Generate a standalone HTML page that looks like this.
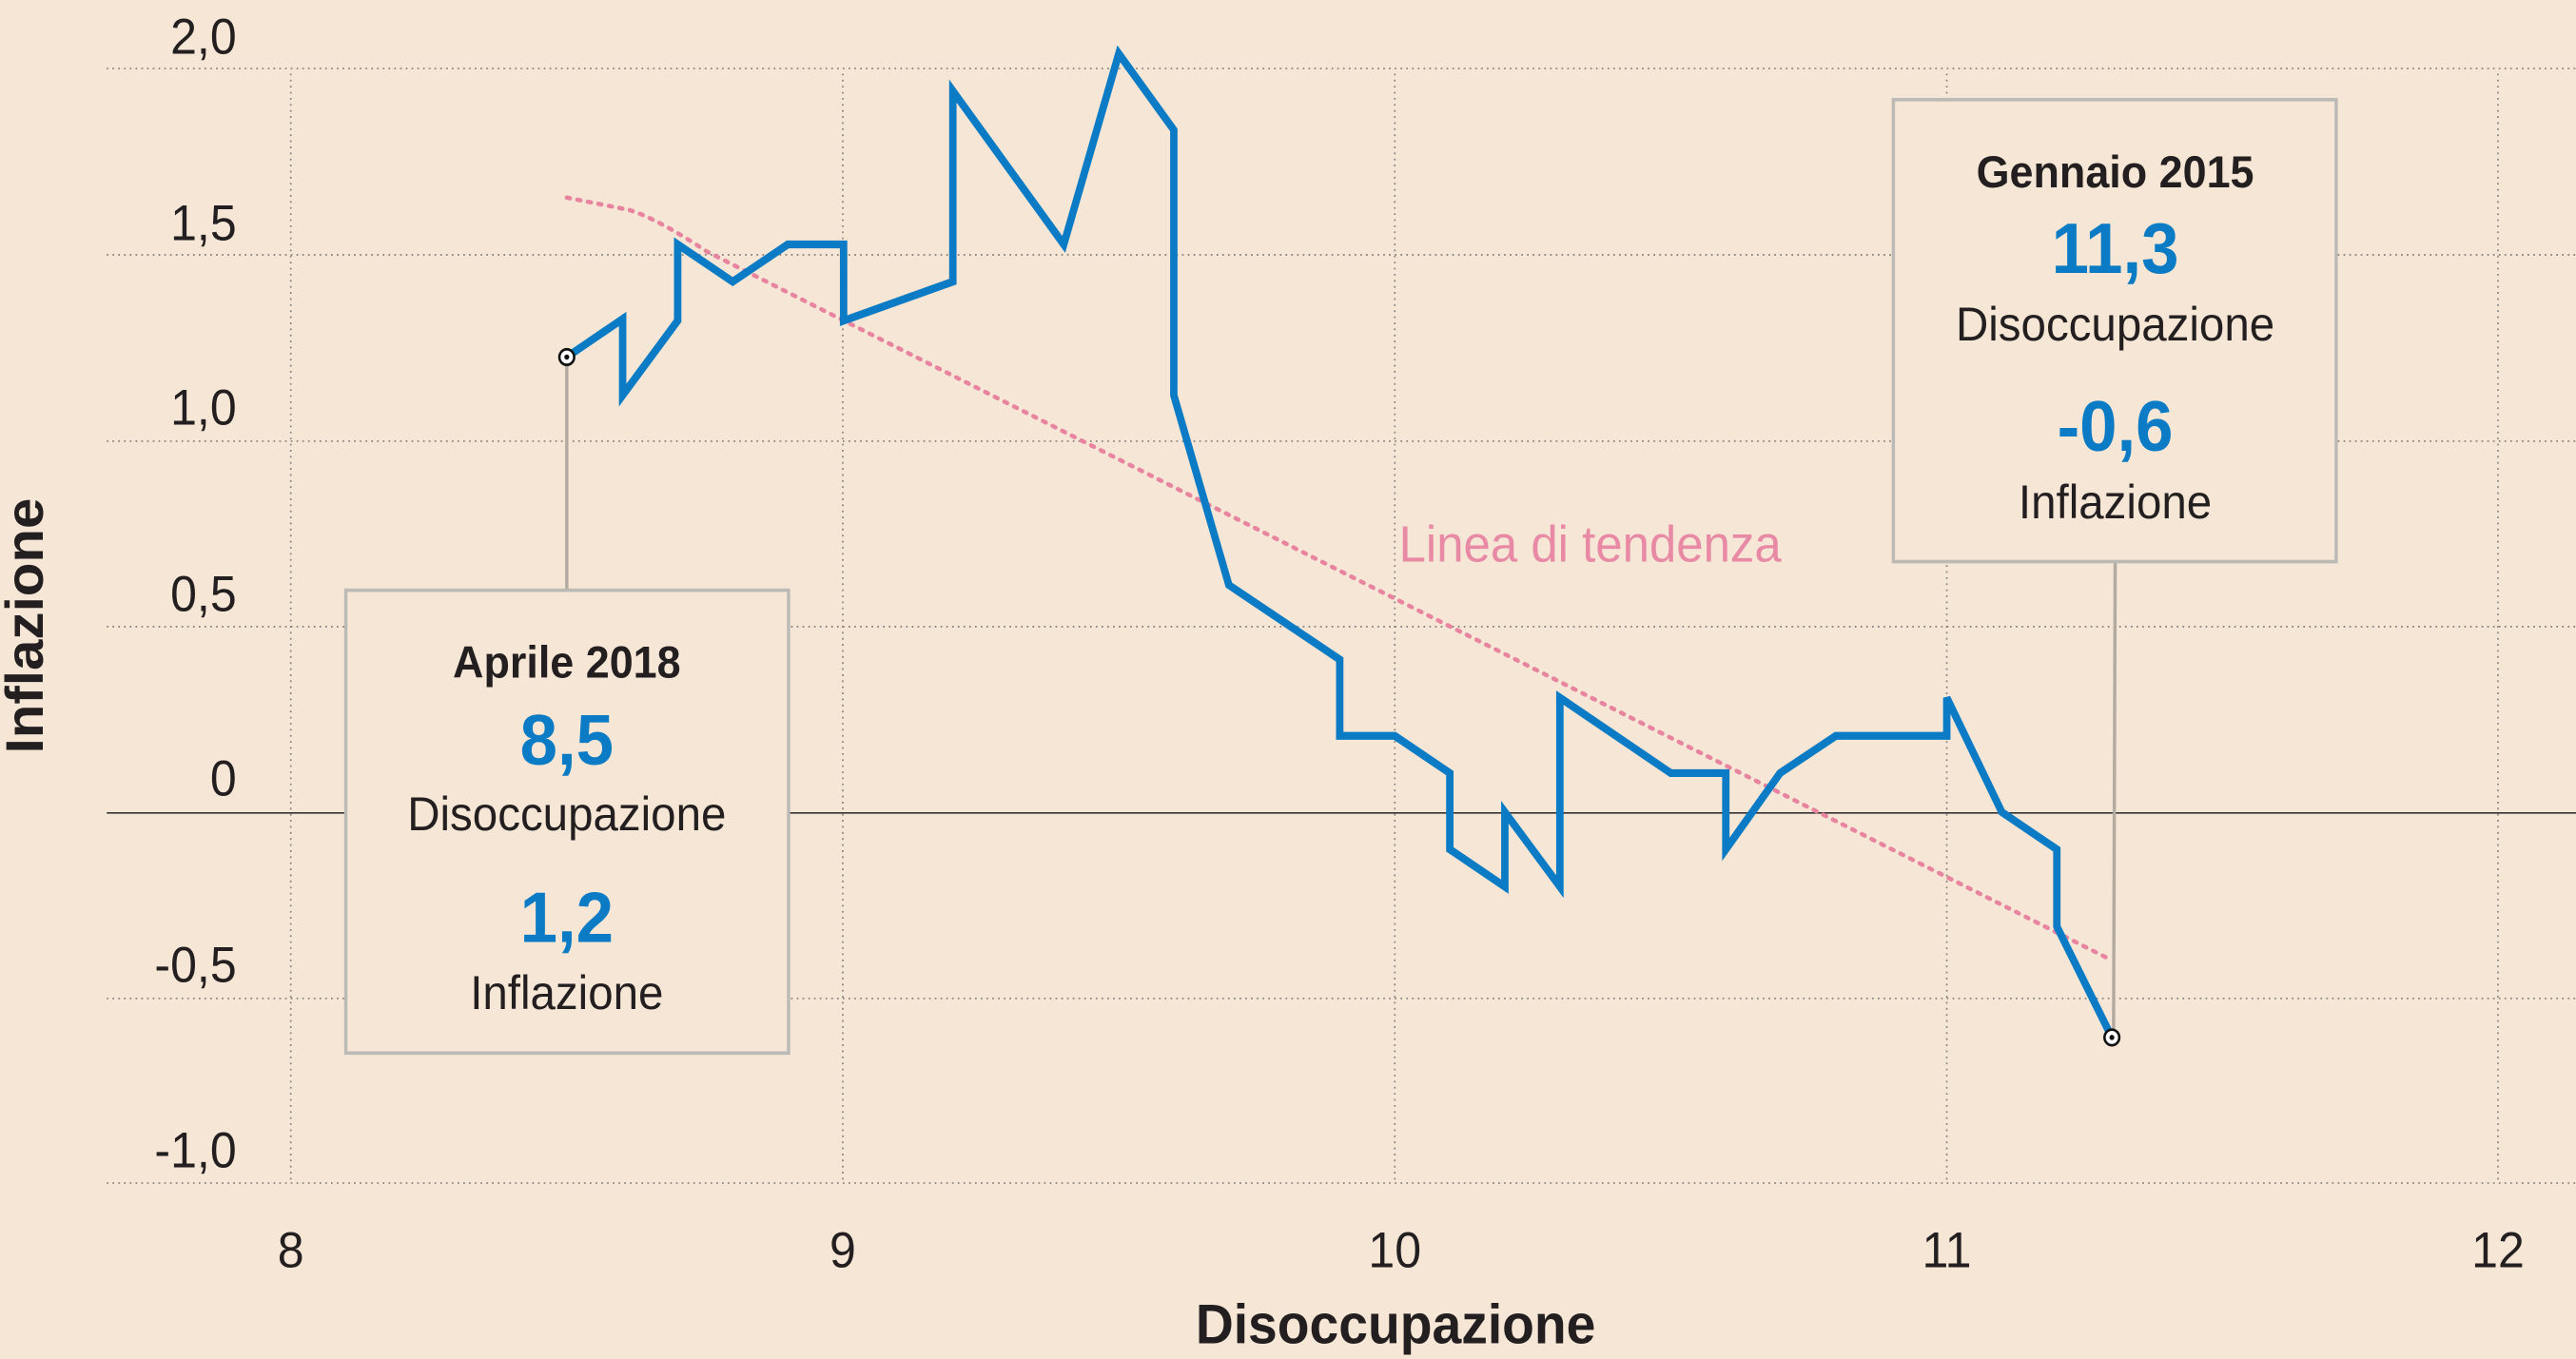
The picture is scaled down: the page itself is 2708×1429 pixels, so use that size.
<!DOCTYPE html>
<html><head><meta charset="utf-8"><style>
html,body{margin:0;padding:0;background:#f5e6d5;}
svg{display:block;}
text{font-family:"Liberation Sans",sans-serif;}
</style></head><body>
<svg width="2708" height="1429" viewBox="0 0 3136 1568" preserveAspectRatio="none" xmlns="http://www.w3.org/2000/svg">
<rect width="3136" height="1568" fill="#f5e6d5"/>
<g stroke="#8a8580" stroke-width="2" stroke-dasharray="2 5" fill="none">
<line x1="130" y1="79" x2="3136" y2="79"/>
<line x1="130" y1="294" x2="3136" y2="294"/>
<line x1="130" y1="509" x2="3136" y2="509"/>
<line x1="130" y1="723" x2="3136" y2="723"/>
<line x1="130" y1="1152" x2="3136" y2="1152"/>
<line x1="130" y1="1365" x2="3136" y2="1365"/>
<line x1="354" y1="85" x2="354" y2="1365"/>
<line x1="1026" y1="85" x2="1026" y2="1365"/>
<line x1="1698" y1="85" x2="1698" y2="1365"/>
<line x1="2370" y1="85" x2="2370" y2="1365"/>
<line x1="3041" y1="85" x2="3041" y2="1365"/>
</g>
<line x1="130" y1="938" x2="3136" y2="938" stroke="#333" stroke-width="1.8"/>
<g fill="#231f20" font-size="58" text-anchor="end">
<text x="288" y="62">2,0</text><text x="288" y="277">1,5</text><text x="288" y="490">1,0</text>
<text x="288" y="705">0,5</text><text x="288" y="918">0</text><text x="288" y="1133">-0,5</text><text x="288" y="1347">-1,0</text>
</g>
<g fill="#231f20" font-size="58" text-anchor="middle">
<text x="354" y="1462">8</text><text x="1026" y="1462">9</text><text x="1698" y="1462">10</text><text x="2370" y="1462">11</text><text x="3041" y="1462">12</text>
</g>
<text x="1699" y="1550" font-size="64" font-weight="bold" fill="#231f20" text-anchor="middle">Disoccupazione</text>
<text transform="translate(52,722) rotate(-90)" font-size="64" font-weight="bold" fill="#231f20" text-anchor="middle">Inflazione</text>
<path d="M690,228 L765,242 Q800,252 860,290 L2571,1108" fill="none" stroke="#e8849f" stroke-width="5" stroke-dasharray="4 9" stroke-linecap="round"/>
<text x="1703" y="648" font-size="59" fill="#e88aa5">Linea di tendenza</text>
<line x1="690" y1="412" x2="690" y2="681" stroke="#b3aaa0" stroke-width="4"/>
<line x1="2575" y1="648" x2="2573" y2="1197" stroke="#b3aaa0" stroke-width="4"/>
<polyline fill="none" stroke="#0a7bc4" stroke-width="9" stroke-linejoin="miter" points="690,412 758,368 758,456 825,370 825,282 892,325 959,282 1027,282 1027,370 1160,325 1160,105 1295,282 1362,62 1429,150 1429,456 1496,675 1631,761 1631,849 1698,849 1765,892 1765,980 1832,1023 1832,937 1899,1023 1899,805 2034,892 2101,892 2101,980 2167,892 2235,849 2370,849 2370,805 2437,937 2504,980 2504,1069 2571,1197"/>
<g><circle cx="690" cy="412" r="9" fill="#fff" stroke="#111" stroke-width="3"/><circle cx="690" cy="412" r="3" fill="#111"/>
<circle cx="2571" cy="1197" r="9" fill="#fff" stroke="#111" stroke-width="3"/><circle cx="2571" cy="1197" r="3" fill="#111"/></g>
<rect x="421" y="681" width="539" height="534" fill="#f5e6d5" stroke="#bcbab6" stroke-width="4"/>
<rect x="2305" y="115" width="539" height="533" fill="#f5e6d5" stroke="#bcbab6" stroke-width="4"/>
<g text-anchor="middle">
<text x="690" y="782" font-size="52" font-weight="bold" fill="#231f20">Aprile 2018</text>
<text x="690" y="882" font-size="82" font-weight="bold" fill="#0a7bc4">8,5</text>
<text x="690" y="958" font-size="55" fill="#231f20">Disoccupazione</text>
<text x="690" y="1087" font-size="82" font-weight="bold" fill="#0a7bc4">1,2</text>
<text x="690" y="1164" font-size="55" fill="#231f20">Inflazione</text>
<text x="2575" y="216" font-size="52" font-weight="bold" fill="#231f20">Gennaio 2015</text>
<text x="2575" y="315" font-size="82" font-weight="bold" fill="#0a7bc4">11,3</text>
<text x="2575" y="393" font-size="55" fill="#231f20">Disoccupazione</text>
<text x="2575" y="520" font-size="82" font-weight="bold" fill="#0a7bc4">-0,6</text>
<text x="2575" y="598" font-size="55" fill="#231f20">Inflazione</text>
</g>
</svg>
</body></html>
